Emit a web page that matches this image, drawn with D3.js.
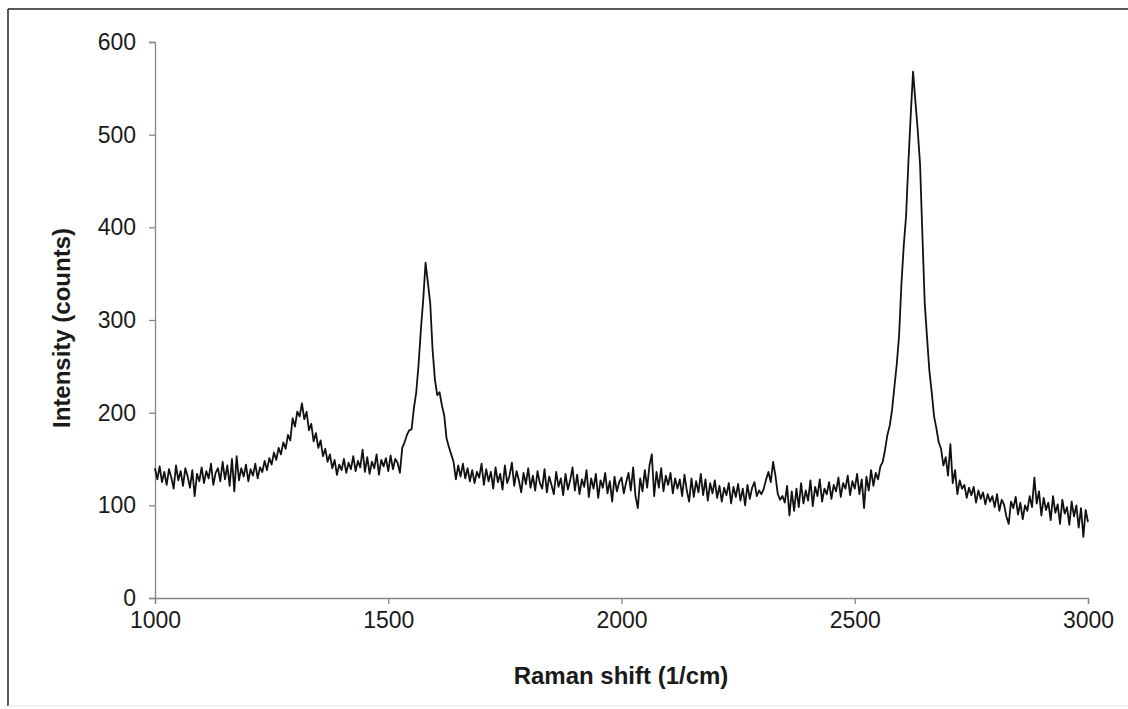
<!DOCTYPE html>
<html>
<head>
<meta charset="utf-8">
<script src="https://cdn.jsdelivr.net/npm/d3@7"></script>
<style>
  body { margin: 0; background: #fff; }
  svg { display: block; font-family: "Liberation Sans", Arial, sans-serif; }
</style>
</head>
<body>
<div id="chart"></div>
<script>
// Raman spectrum, sampled every 5 cm-1 from 1000 to 3000
const shiftStart = 1000;
const shiftStep = 5;

// one row per 100 cm-1
const intensity = [
  140, 128, 142, 125, 136, 122, 139, 130, 118, 143, 127, 137, 121, 140, 131, 119, 138, 110, 134, 126,
  141, 124, 137, 129, 145, 122, 135, 140, 126, 147, 128, 143, 121, 150, 115, 153, 127, 140, 131, 144,
  126, 139, 132, 145, 129, 141, 136, 148, 138, 151, 144, 157, 149, 162, 155, 168, 161, 176, 170, 194,
  185, 201, 196, 210, 193, 201, 181, 188, 169, 178, 162, 170, 153, 161, 147, 155, 140, 149, 133, 144,
  138, 150, 135, 146, 139, 153, 137, 148, 141, 160, 136, 152, 134, 147, 140, 155, 133, 149, 142, 151,
  137, 154, 139, 150, 146, 135, 162, 168, 176, 181, 182, 205, 222, 252, 290, 322, 362, 340, 318, 268,
  236, 219, 222, 208, 197, 172, 163, 155, 147, 128, 143, 131, 145, 129, 140, 126, 138, 124, 136, 130,
  145, 122, 139, 126, 136, 118, 141, 125, 134, 117, 143, 124, 132, 146, 121, 137, 127, 114, 135, 123,
  140, 119, 132, 116, 137, 124, 118, 139, 114, 131, 122, 112, 136, 120, 129, 111, 134, 117, 127, 141,
  116, 133, 112, 128, 120, 138, 109, 129, 118, 134, 108, 127, 119, 135, 113, 126, 104, 131, 115, 125,
  130, 113, 125, 135, 116, 141, 110,  97, 129, 115, 138, 119, 143, 155, 110, 136, 119, 140, 115, 132,
  122, 135, 113, 129, 118, 128, 110, 133, 116, 104, 129, 109, 126, 114, 134, 111, 128, 105, 124, 113,
  127, 108, 121, 104, 119, 111, 124, 102, 120, 109, 123, 105, 118, 100, 122, 107, 119, 125, 110, 116,
  112, 118, 128, 136, 125, 147, 132, 112, 106, 110, 103, 121,  89, 115,  94, 118,  98, 124, 102, 116,
  105, 127,  99, 120, 110, 128, 104, 118, 112, 125, 107, 122, 115, 130, 109, 124, 118, 132, 111, 126,
  118, 134, 112, 128,  97, 131, 116, 138, 121, 135, 128, 142, 147, 160, 176, 186, 203, 228, 252, 283,
  338, 380, 412, 470, 521, 568, 536, 505, 468, 392, 318, 281, 245, 222, 196, 183, 168, 161, 143, 152,
  132, 166, 124, 138, 112, 127, 118, 122, 108, 119, 111, 120, 103, 116, 107, 114, 101, 112, 104, 110,
   98, 112,  94, 106, 101,  88,  80, 104,  97, 109,  90, 103,  85, 100,  94, 110,  98, 130, 102, 115,
   89, 108,  95, 103,  84, 110,  92, 101,  80, 106,  91,  98,  79, 104,  88, 100,  76,  97,  66,  95,
   82
];

const xTicks = [1000, 1500, 2000, 2500, 3000];
const yTicks = [0, 100, 200, 300, 400, 500, 600];

const width = 1128;
const height = 709;
const axisColor = '#868686';

const spectrum = intensity.map((v, i) => ({ shift: shiftStart + i * shiftStep, value: v }));

const svg = d3.select('#chart')
  .append('svg')
  .attr('width', width)
  .attr('height', height);

svg.append('rect')
  .attr('width', width)
  .attr('height', height)
  .attr('fill', '#fff');

// chart frame (left and top edges visible, bottom faint)
svg.append('line').attr('x1', 8).attr('x2', 8).attr('y1', 9).attr('y2', 706)
  .attr('stroke', '#222').attr('stroke-width', 1.5);
svg.append('line').attr('x1', 8).attr('x2', width).attr('y1', 9).attr('y2', 9)
  .attr('stroke', '#222').attr('stroke-width', 1.5);
svg.append('line').attr('x1', 8).attr('x2', width).attr('y1', 706).attr('y2', 706)
  .attr('stroke', '#e2e2e2').attr('stroke-width', 1);

const x = d3.scaleLinear().domain([1000, 3000]).range([155, 1088]);
const y = d3.scaleLinear().domain([0, 600]).range([598, 42]);

const xAxis = svg.append('g')
  .attr('transform', `translate(0,${y(0)})`)
  .call(d3.axisBottom(x).tickValues(xTicks).tickSize(6).tickPadding(8).tickFormat(d3.format('d')));

const yAxis = svg.append('g')
  .attr('transform', `translate(${x(1000)},0)`)
  .call(d3.axisLeft(y).tickValues(yTicks).tickSize(6).tickPadding(13).tickFormat(d3.format('d')));

[xAxis, yAxis].forEach(g => {
  g.select('.domain').attr('stroke', axisColor).attr('stroke-width', 1.3);
  g.selectAll('.tick line').attr('stroke', axisColor).attr('stroke-width', 1.3);
  g.selectAll('.tick text')
    .attr('fill', '#1a1a1a')
    .style('font-size', '23px')
    .style('font-family', '"Liberation Sans", Arial, sans-serif');
});

const line = d3.line()
  .x(d => x(d.shift))
  .y(d => y(d.value));

svg.append('path')
  .datum(spectrum)
  .attr('d', line)
  .attr('fill', 'none')
  .attr('stroke', '#111')
  .attr('stroke-width', 1.8)
  .attr('stroke-linejoin', 'round');

svg.append('text')
  .attr('x', 621)
  .attr('y', 684)
  .attr('text-anchor', 'middle')
  .style('font-size', '24px')
  .style('font-weight', 'bold')
  .attr('fill', '#1a1a1a')
  .text('Raman shift (1/cm)');

svg.append('text')
  .attr('transform', 'translate(70,328) rotate(-90)')
  .attr('text-anchor', 'middle')
  .style('font-size', '24px')
  .style('font-weight', 'bold')
  .attr('fill', '#1a1a1a')
  .text('Intensity (counts)');
</script>
</body>
</html>
